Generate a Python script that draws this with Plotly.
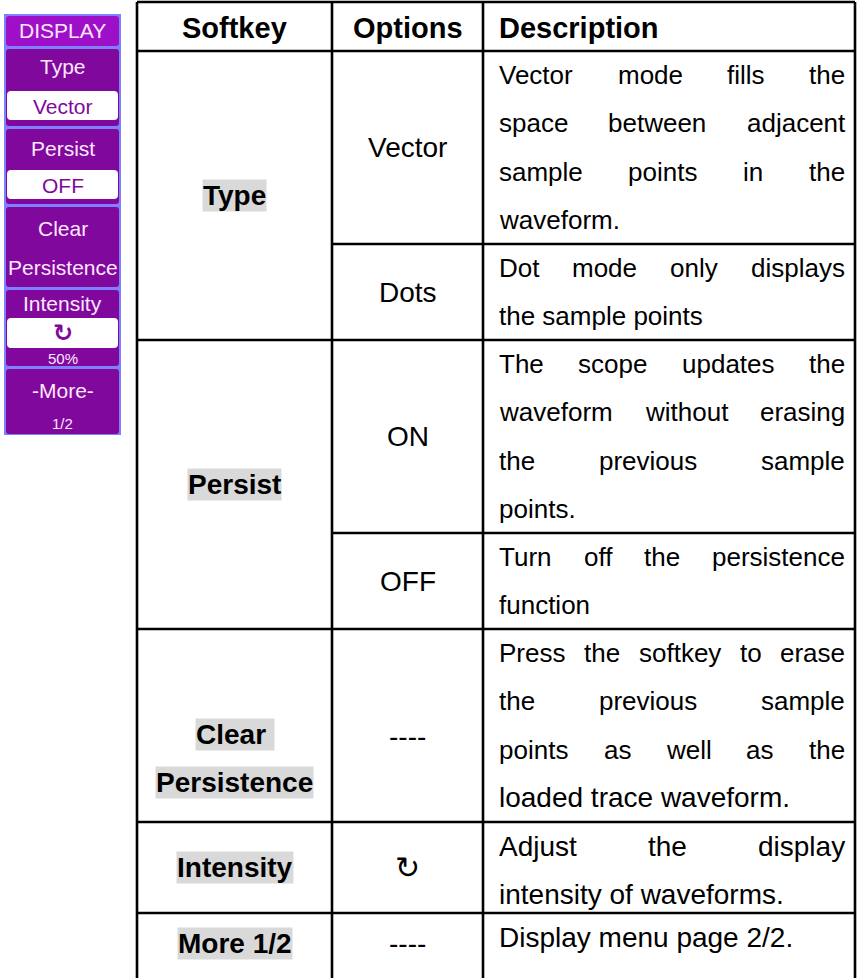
import plotly.graph_objects as go

W, H = 857, 978

# ---------------- content ----------------
header = ["Softkey", "Options", "Description"]
softkeys = [["Type"], ["Persist"], ["Clear ", "Persistence"], ["Intensity"], ["More 1/2"]]
softkey_span = [2, 2, 1, 1, 1]
options = ["Vector", "Dots", "ON", "OFF", "----", "\u21bb", "----"]
descriptions = [
    ["Vector mode fills the", "space between adjacent", "sample points in the", "waveform."],
    ["Dot mode only displays", "the sample points"],
    ["The scope updates the", "waveform without erasing", "the previous sample", "points."],
    ["Turn off the persistence", "function"],
    ["Press the softkey to erase", "the previous sample", "points as well as the", "loaded trace waveform."],
    ["Adjust the display", "intensity of waveforms."],
    ["Display menu page 2/2."],
]
menu_labels = [["DISPLAY"], ["Type"], ["Persist"], ["Clear", "Persistence"], ["Intensity"], ["-More-", "1/2"]]
menu_values = [None, "Vector", "OFF", None, "\u21bb", None]
menu_subtext = [None, None, None, None, "50%", None]

# ---------------- layout geometry ----------------
col_x = [137, 332, 483, 855]
table_top, header_bottom = 2, 51
row_bounds = [51, 244, 340, 533, 629, 822, 913, 978]
line_h = 48.2
desc_left, desc_right = 497, 843
softkey_dy = [0, 0, 33, 0, -2]
option_dy = [0, 0, 0, 0, 11, 0, -2]

menu_x0, menu_x1 = 4, 121
menu_bounds = [14, 47, 127, 205, 288, 367, 435]

FS_BODY = 28
FS_DESC = 26
FS_DESC_LOW = 28     # lower part of the page is rendered a little larger in the reference
LOW_FROM_Y = 775
FS_HEAD = 29
FONT = "Liberation Sans, Arial, sans-serif"
LW = 2.6

AW = {' ': 278, 'a': 556, 'b': 556, 'c': 500, 'd': 556, 'e': 556, 'f': 278, 'g': 556, 'h': 556,
      'i': 222, 'j': 222, 'k': 500, 'l': 222, 'm': 833, 'n': 556, 'o': 556, 'p': 556, 'q': 556,
      'r': 333, 's': 500, 't': 278, 'u': 556, 'v': 500, 'w': 722, 'x': 500, 'y': 500, 'z': 500,
      'A': 667, 'D': 722, 'P': 667, 'T': 611, 'V': 667, 'O': 778, 'N': 722, 'F': 611,
      '.': 278, '/': 278, '2': 556, '1': 556, '-': 333}


def tw(s, fs):
    return sum(AW.get(c, 556) for c in s) * fs / 1000.0


fig = go.Figure()
shapes = []
ann = []


def line(x0, y0, x1, y1, w=LW, c="black"):
    shapes.append(dict(type="line", x0=x0, y0=y0, x1=x1, y1=y1, xref="x", yref="y",
                       line=dict(color=c, width=w), layer="above"))


def text(x, y, s, size, bold=False, color="black", xanchor="center", bg=None, family=FONT):
    d = dict(x=x, y=y, xref="x", yref="y", text=("<b>%s</b>" % s) if bold else s, showarrow=False,
             xanchor=xanchor, yanchor="middle", font=dict(family=family, size=size, color=color))
    if bg:
        d["bgcolor"] = bg
        d["borderpad"] = 0
    ann.append(d)


def rrect(x0, y0, x1, y1, r, fill, lc=None, lw=0):
    p = (f"M{x0+r},{y0} L{x1-r},{y0} Q{x1},{y0} {x1},{y0+r} L{x1},{y1-r} Q{x1},{y1} {x1-r},{y1} "
         f"L{x0+r},{y1} Q{x0},{y1} {x0},{y1-r} L{x0},{y0+r} Q{x0},{y0} {x0+r},{y0} Z")
    shapes.append(dict(type="path", path=p, xref="x", yref="y", fillcolor=fill,
                       line=dict(color=lc or fill, width=lw), layer="below"))


# ---------------- table lines ----------------
line(col_x[0], table_top, col_x[3], table_top)
line(col_x[0], header_bottom, col_x[3], header_bottom)
for x in col_x:
    line(x, table_top, x, H + 5)

group_ends = []
acc = 0
for s in softkey_span:
    acc += s
    group_ends.append(acc)
for i in range(1, len(options)):
    y = row_bounds[i]
    if i in group_ends:
        line(col_x[0], y, col_x[3], y)
    else:
        line(col_x[1], y, col_x[3], y)

# header
for j, h in enumerate(header):
    yy = (table_top + header_bottom) / 2 + 1
    if j < 2:
        text((col_x[j] + col_x[j + 1]) / 2, yy, h, FS_HEAD, bold=True)
    else:
        text(desc_left, yy, h, FS_HEAD, bold=True, xanchor="left")

# softkeys
start = 0
for g, (names, span) in enumerate(zip(softkeys, softkey_span)):
    y0, y1 = row_bounds[start], row_bounds[min(start + span, len(row_bounds) - 1)]
    cy = (y0 + y1) / 2 + softkey_dy[g]
    n = len(names)
    for k, nm in enumerate(names):
        yy = cy + (k - (n - 1) / 2) * line_h
        text((col_x[0] + col_x[1]) / 2, yy, nm, FS_BODY, bold=True, bg="#d9d9d9")
    start += span

# options + descriptions
for i, (opt, lines_) in enumerate(zip(options, descriptions)):
    y0 = row_bounds[i]
    y1 = row_bounds[i + 1]
    cy = (y0 + y1) / 2 + option_dy[i]
    if opt == "\u21bb":
        text((col_x[1] + col_x[2]) / 2, cy, opt, 30, family="DejaVu Sans, sans-serif")
    else:
        text((col_x[1] + col_x[2]) / 2, cy, opt, FS_BODY)
    for k, ln in enumerate(lines_):
        yy = y0 + line_h * (k + 0.5)
        fs = FS_DESC_LOW if yy > LOW_FROM_Y else FS_DESC
        last = (k == len(lines_) - 1)
        words = ln.split(" ")
        if last or len(words) == 1:
            text(desc_left, yy, ln, fs, xanchor="left")
        else:
            widths = [tw(w_, fs) for w_ in words]
            gap = (desc_right - desc_left - sum(widths)) / (len(words) - 1)
            x = desc_left
            for w_, ww in zip(words, widths):
                text(x, yy, w_, fs, xanchor="left")
                x += ww + gap

# ---------------- softkey menu ----------------
PURPLE = "#80089c"
HEAD = "#9e10c8"
BORDER = "#8080ff"
MTXT = "#ffe8ff"
MFS = 21
shapes.append(dict(type="rect", x0=menu_x0, x1=menu_x1, y0=menu_bounds[0], y1=menu_bounds[-1],
                   xref="x", yref="y", fillcolor=BORDER, line=dict(width=0), layer="below"))
for s in range(len(menu_labels)):
    ya, yb = menu_bounds[s], menu_bounds[s + 1]
    rrect(menu_x0 + 2, ya + 2, menu_x1 - 2, yb - 1, 3, HEAD if s == 0 else PURPLE)

box_y = {1: (91, 120), 2: (170, 199), 4: (318, 348)}
label_y = {0: [30], 1: [66], 2: [148], 3: [228, 267], 4: [303], 5: [390, 423]}
for s, labs in enumerate(menu_labels):
    for k, lb in enumerate(labs):
        size = MFS if not (s == 5 and k == 1) else 15
        text((menu_x0 + menu_x1) / 2, label_y[s][k], lb, size, color=MTXT)
    if menu_values[s] is not None:
        a, b = box_y[s]
        rrect(menu_x0 + 3, a, menu_x1 - 3, b, 4, "white")
        if menu_values[s] == "\u21bb":
            text((menu_x0 + menu_x1) / 2, (a + b) / 2, menu_values[s], 24, bold=True, color=PURPLE,
                 family="DejaVu Sans, sans-serif")
        else:
            text((menu_x0 + menu_x1) / 2, (a + b) / 2 + 1, menu_values[s], MFS, color=PURPLE)
    if menu_subtext[s]:
        text((menu_x0 + menu_x1) / 2, 358, menu_subtext[s], 15, color=MTXT)

fig.update_layout(
    width=W, height=H, margin=dict(l=0, r=0, t=0, b=0),
    paper_bgcolor="white", plot_bgcolor="white",
    xaxis=dict(range=[0, W], visible=False, fixedrange=True),
    yaxis=dict(range=[H, 0], visible=False, fixedrange=True),
    shapes=shapes, annotations=ann, showlegend=False,
)
fig.write_html("out.html", config={"displayModeBar": False},
               post_script="document.body.style.margin='0';document.body.style.overflow='hidden';")
